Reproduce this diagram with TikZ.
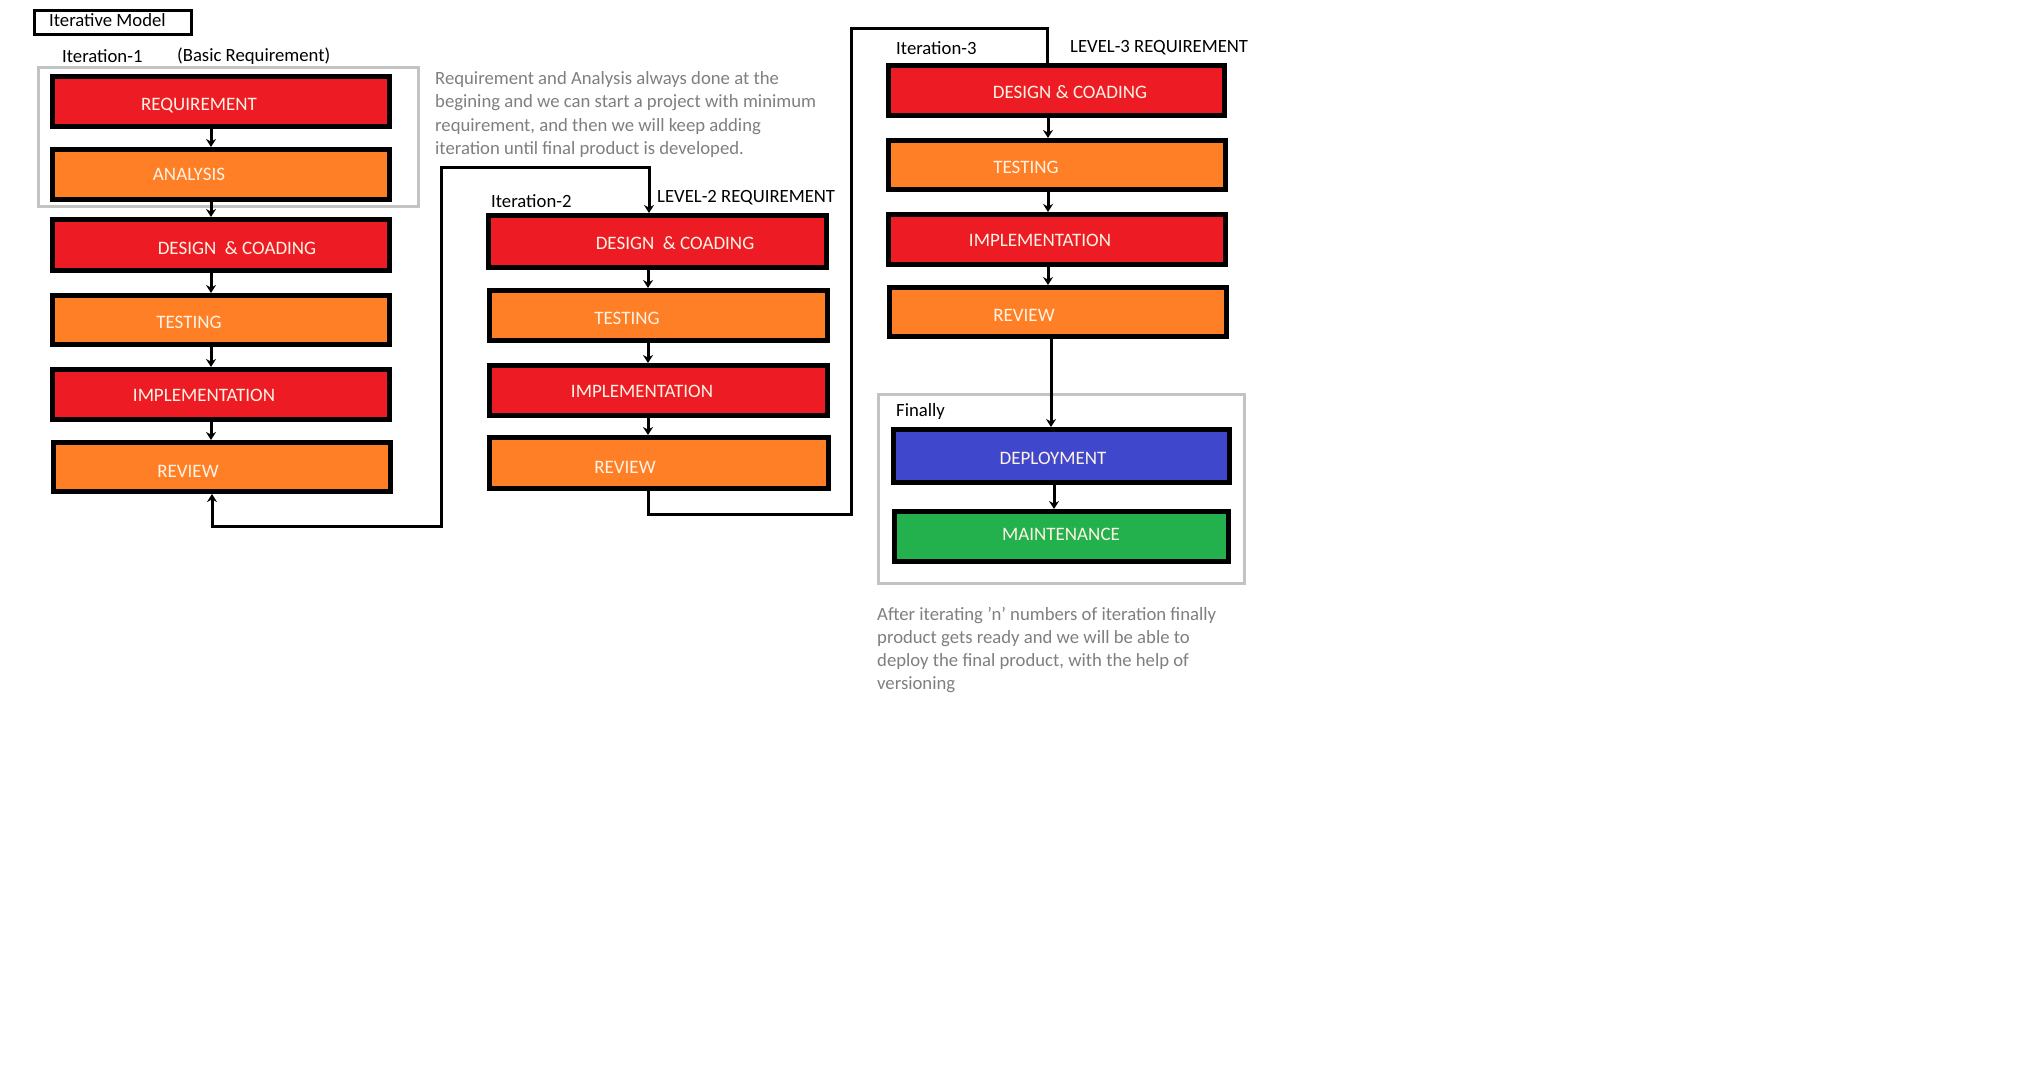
\documentclass[tikz,border=0pt]{standalone}
\usepackage{fontspec}
\setmainfont{Carlito}
\usetikzlibrary{arrows.meta,calc}
\definecolor{pred}{HTML}{ED1C24}
\definecolor{porange}{HTML}{FF7F27}
\definecolor{pblue}{HTML}{3F48CC}
\definecolor{pgreen}{HTML}{22B14C}
\definecolor{pgray}{HTML}{C3C3C3}
\definecolor{ptext}{HTML}{7F7F7F}
\definecolor{boxtext}{RGB}{255,243,228}
\tikzset{
  stagebox/.style={draw=black, line width=5pt, inner sep=0pt, rectangle},
  stagetext/.style={anchor=base, text=boxtext, inner sep=0pt, font=\fontsize{19}{22}\selectfont},
  grpbox/.style={draw=pgray, line width=3pt, inner sep=0pt, rectangle},
  lbl/.style={anchor=base west, inner sep=0pt, font=\fontsize{18.7}{22}\selectfont},
  note/.style={anchor=base west, inner sep=0pt, text=ptext, font=\fontsize{18.7}{22}\selectfont},
  conn/.style={draw=black, line width=3pt, line join=miter},
  tip/.tip={Stealth[length=8pt,width=10pt]}
}
% name, x1, y1, x2, y2, colour, text x, text baseline y, text
\newcommand{\stg}[9]{%
  \node[stagebox, fill=#6, minimum width={#4pt-#2pt-5pt}, minimum height={#5pt-#3pt-5pt}] (#1) at ({(#2+#4)/2},{(#3+#5)/2}) {};
  \node[stagetext] (#1t) at (#7,#8) {#9};
}
\begin{document}
\begin{tikzpicture}[x=1pt,y=-1pt]
\useasboundingbox (0,0) rectangle (2044,1072);
\fill[white] (0,0) rectangle (2044,1072);

% title
\node[draw=black, line width=3pt, inner sep=0pt, minimum width=157pt, minimum height=24pt] (title) at (113,22.5) {};
\node[lbl] (titlet) at (49,26) {Iterative Model};

% group boxes
\node[grpbox, minimum width=380pt, minimum height=139pt] (grp1) at (228.5,137) {};
\node[grpbox, minimum width=366pt, minimum height=189pt] (grpf) at (1061.5,489) {};

% labels
\node[lbl] (it1) at (62,62) {Iteration-1};
\node[lbl] (basic) at (177,61) {(Basic Requirement)};
\node[lbl] (it2) at (491,207) {Iteration-2};
\node[lbl] (lev2) at (657,202) {LEVEL-2 REQUIREMENT};
\node[lbl] (it3) at (896,54) {Iteration-3};
\node[lbl] (lev3) at (1070,52) {LEVEL-3 REQUIREMENT};
\node[lbl] (fin) at (896,416) {Finally};

% notes
\node[note] (n1a) at (435,84) {Requirement and Analysis always done at the};
\node[note] (n1b) at (435,107.5) {begining and we can start a project with minimum};
\node[note] (n1c) at (435,131) {requirement, and then we will keep adding};
\node[note] (n1d) at (435,154) {iteration until final product is developed.};
\node[note] (n2a) at (877,620) {After iterating 'n' numbers of iteration finally};
\node[note] (n2b) at (877,643) {product gets ready and we will be able to};
\node[note] (n2c) at (877,666) {deploy the final product, with the help of};
\node[note] (n2d) at (877,689) {versioning};

% column 1
\stg{REQ1}{50}{74}{392}{129}{pred}{199}{110}{REQUIREMENT}
\stg{ANA1}{50}{147}{392}{202}{porange}{189}{180}{ANALYSIS}
\stg{DES1}{50}{217}{392}{273}{pred}{237}{254}{DESIGN\ \ \& COADING}
\stg{TEST1}{50}{293}{392}{347}{porange}{189}{328}{TESTING}
\stg{IMPL1}{50}{367}{392}{422}{pred}{204}{401}{IMPLEMENTATION}
\stg{REV1}{51}{440}{393}{494}{porange}{188}{477}{REVIEW}

% column 2
\stg{DES2}{486}{213}{829}{270}{pred}{675}{249}{DESIGN\ \ \& COADING}
\stg{TEST2}{487}{288}{830}{343}{porange}{627}{324}{TESTING}
\stg{IMPL2}{487}{363}{830}{418}{pred}{642}{397}{IMPLEMENTATION}
\stg{REV2}{487}{435}{831}{491}{porange}{625}{473}{REVIEW}

% column 3
\stg{DES3}{886}{63}{1227}{118}{pred}{1070}{98}{DESIGN \& COADING}
\stg{TEST3}{886}{138}{1228}{192}{porange}{1026}{173}{TESTING}
\stg{IMPL3}{886}{212}{1228}{267}{pred}{1040}{246}{IMPLEMENTATION}
\stg{REV3}{887}{285}{1229}{339}{porange}{1024}{321}{REVIEW}

% final
\stg{DEP}{891}{427}{1232}{485}{pblue}{1053}{464}{DEPLOYMENT}
\stg{MAINT}{892}{509}{1231}{564}{pgreen}{1061}{540}{MAINTENANCE}

% arrow columns
\coordinate (ax1) at (211,0);
\coordinate (ax2) at (648,0);
\coordinate (ax3) at (1048,0);
\coordinate (ax4) at (1051,0);
\coordinate (ax5) at (1054,0);

\draw[conn,-tip] (REQ1.south -| ax1) -- (ANA1.north -| ax1);
\draw[conn,-tip] (ANA1.south -| ax1) -- (DES1.north -| ax1);
\draw[conn,-tip] (DES1.south -| ax1) -- (TEST1.north -| ax1);
\draw[conn,-tip] (TEST1.south -| ax1) -- (IMPL1.north -| ax1);
\draw[conn,-tip] (IMPL1.south -| ax1) -- (REV1.north -| ax1);

\draw[conn,-tip] (DES2.south -| ax2) -- (TEST2.north -| ax2);
\draw[conn,-tip] (TEST2.south -| ax2) -- (IMPL2.north -| ax2);
\draw[conn,-tip] (IMPL2.south -| ax2) -- (REV2.north -| ax2);

\draw[conn,-tip] (DES3.south -| ax3) -- (TEST3.north -| ax3);
\draw[conn,-tip] (TEST3.south -| ax3) -- (IMPL3.north -| ax3);
\draw[conn,-tip] (IMPL3.south -| ax3) -- (REV3.north -| ax3);

\draw[conn,-tip] (REV3.south -| ax4) -- (DEP.north -| ax4);
\draw[conn,-tip] (DEP.south -| ax5) -- (MAINT.north -| ax5);

% loop 1
\coordinate (k1) at (212,526);
\coordinate (k2) at (441,526);
\coordinate (k3) at (441,167);
\coordinate (k4) at (649,167);
\draw[conn,tip-tip] (REV1.south -| k1) -- (k1) -- (k2) -- (k3) -- (k4) -- (DES2.north -| k4);

% loop 2
\coordinate (k5) at (648,514);
\coordinate (k6) at (851,514);
\coordinate (k7) at (851,28);
\coordinate (k8) at (1047,28);
\draw[conn] (REV2.south -| k5) -- (k5) -- (k6) -- (k7) -- (k8) -- (DES3.north -| k8);
\end{tikzpicture}
\end{document}
